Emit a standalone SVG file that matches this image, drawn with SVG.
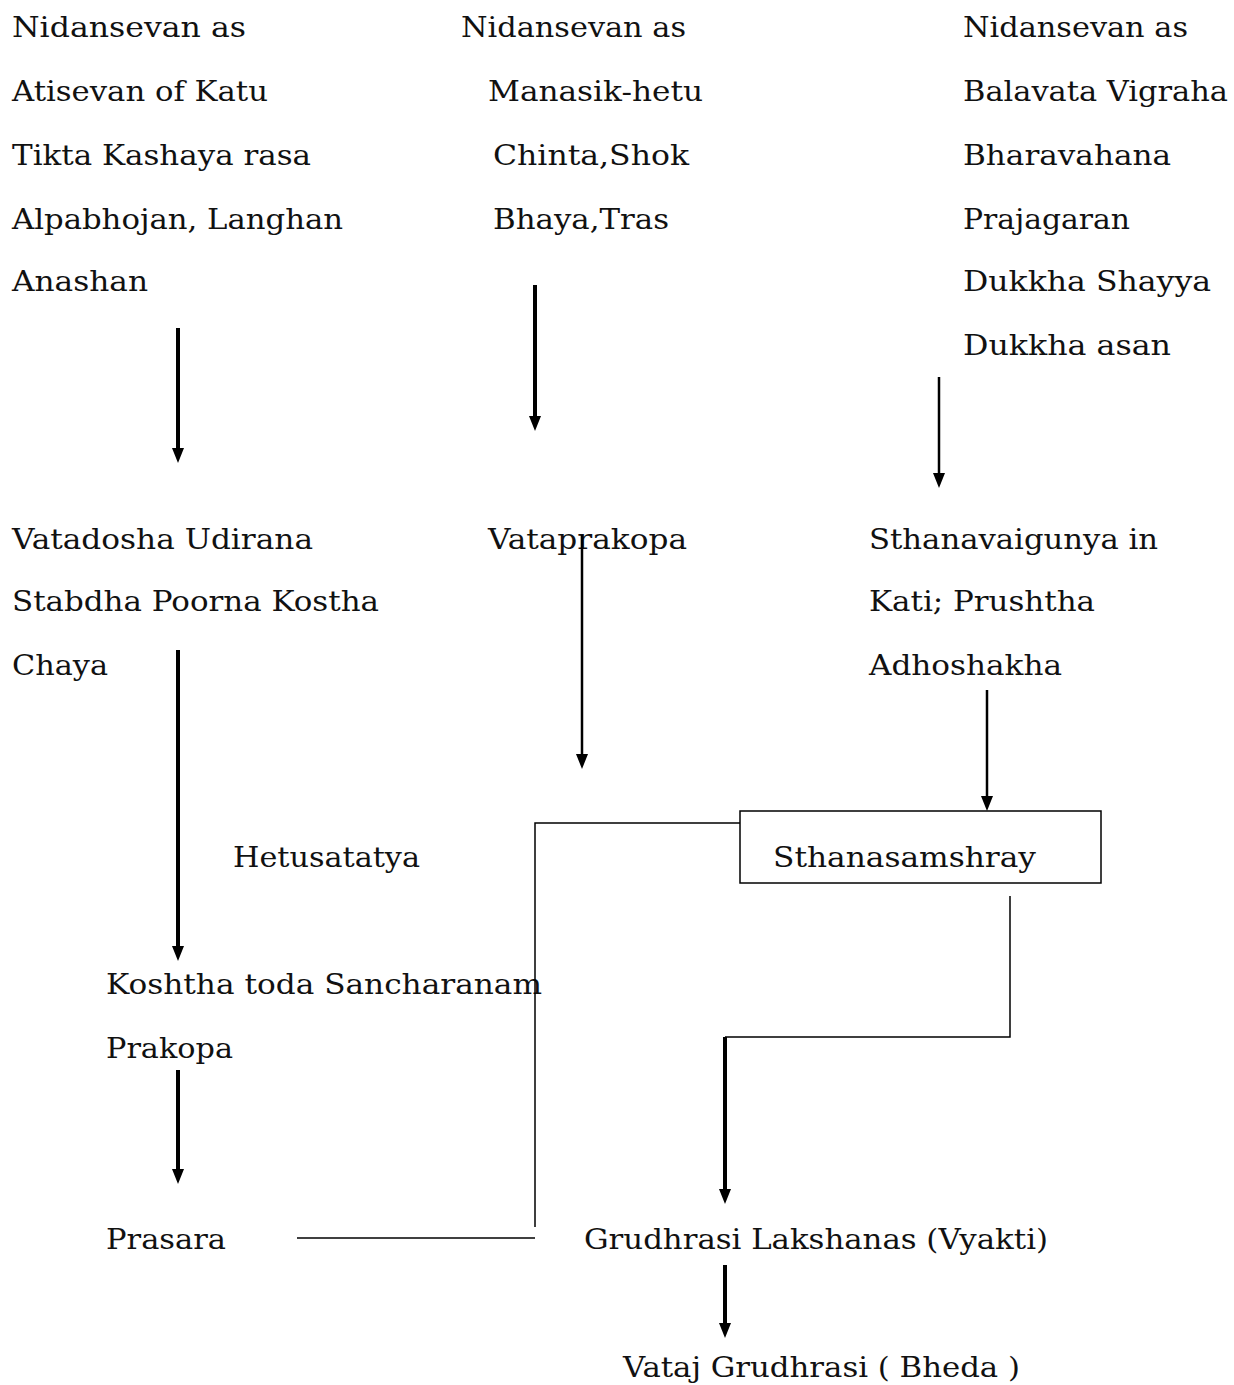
<svg xmlns="http://www.w3.org/2000/svg" width="1234" height="1385" viewBox="0 0 1234 1385">
<style>
text{font-family:"DejaVu Serif","Liberation Serif",serif;font-size:28px;fill:#111}
.a{stroke:#000;stroke-width:4;fill:none}
.t{stroke:#000;stroke-width:2.5;fill:none}
.l{stroke:#000;stroke-width:1.5;fill:none}
.h{fill:#000}
</style>
<defs>
<path id="hd" d="M-6,-15 L6,-15 L0,0 Z"/>
</defs>
<rect width="1234" height="1385" fill="#fff"/>
<g id="n-left-causes">
<text x="12" y="37" textLength="234" lengthAdjust="spacingAndGlyphs">Nidansevan  as</text>
<text x="12" y="101" textLength="256" lengthAdjust="spacingAndGlyphs">Atisevan of Katu</text>
<text x="12" y="165" textLength="299" lengthAdjust="spacingAndGlyphs">Tikta Kashaya rasa</text>
<text x="12" y="229" textLength="331" lengthAdjust="spacingAndGlyphs">Alpabhojan, Langhan</text>
<text x="12" y="291" textLength="136" lengthAdjust="spacingAndGlyphs">Anashan</text>
</g>
<g id="n-mid-causes">
<text x="461" y="37" textLength="225" lengthAdjust="spacingAndGlyphs">Nidansevan as</text>
<text x="488" y="101" textLength="215" lengthAdjust="spacingAndGlyphs">Manasik-hetu</text>
<text x="493" y="165" textLength="196" lengthAdjust="spacingAndGlyphs">Chinta,Shok</text>
<text x="493" y="229" textLength="176" lengthAdjust="spacingAndGlyphs">Bhaya,Tras</text>
</g>
<g id="n-right-causes">
<text x="963" y="37" textLength="225" lengthAdjust="spacingAndGlyphs">Nidansevan as</text>
<text x="963" y="101" textLength="265" lengthAdjust="spacingAndGlyphs">Balavata Vigraha</text>
<text x="963" y="165" textLength="208" lengthAdjust="spacingAndGlyphs">Bharavahana</text>
<text x="963" y="229" textLength="167" lengthAdjust="spacingAndGlyphs">Prajagaran</text>
<text x="963" y="291" textLength="248" lengthAdjust="spacingAndGlyphs">Dukkha Shayya</text>
<text x="963" y="355" textLength="208" lengthAdjust="spacingAndGlyphs">Dukkha asan</text>
</g>
<g id="n-udirana">
<text x="12" y="549" textLength="301" lengthAdjust="spacingAndGlyphs">Vatadosha Udirana</text>
<text x="12" y="611" textLength="367" lengthAdjust="spacingAndGlyphs">Stabdha Poorna Kostha</text>
<text x="12" y="675" textLength="96" lengthAdjust="spacingAndGlyphs">Chaya</text>
</g>
<g id="n-vataprakopa">
<text x="488" y="549" textLength="199" lengthAdjust="spacingAndGlyphs">Vataprakopa</text>
</g>
<g id="n-sthanavaigunya">
<text x="869" y="549" textLength="289" lengthAdjust="spacingAndGlyphs">Sthanavaigunya in</text>
<text x="869" y="611" textLength="226" lengthAdjust="spacingAndGlyphs">Kati; Prushtha</text>
<text x="869" y="675" textLength="193" lengthAdjust="spacingAndGlyphs">Adhoshakha</text>
</g>
<g id="n-hetusatatya">
<text x="233" y="867" textLength="187" lengthAdjust="spacingAndGlyphs">Hetusatatya</text>
</g>
<g id="n-sthanasamshray">
<rect x="740" y="811" width="361" height="72" fill="none" stroke="#000" stroke-width="1.5"/>
<text x="773" y="867" textLength="263" lengthAdjust="spacingAndGlyphs">Sthanasamshray</text>
</g>
<g id="n-sancharanam">
<text x="106" y="994" textLength="436" lengthAdjust="spacingAndGlyphs">Koshtha toda Sancharanam</text>
<text x="106" y="1058" textLength="127" lengthAdjust="spacingAndGlyphs">Prakopa</text>
</g>
<g id="n-prasara">
<text x="106" y="1249" textLength="120" lengthAdjust="spacingAndGlyphs">Prasara</text>
</g>
<g id="n-lakshanas">
<text x="584" y="1249" textLength="464" lengthAdjust="spacingAndGlyphs">Grudhrasi Lakshanas (Vyakti)</text>
</g>
<g id="n-bheda">
<text x="623" y="1377" textLength="397" lengthAdjust="spacingAndGlyphs">Vataj Grudhrasi ( Bheda )</text>
</g>
<g id="connectors">
<line class="a" x1="178" y1="328" x2="178" y2="450"/><use href="#hd" class="h" x="178" y="463"/>
<line class="a" x1="535" y1="285" x2="535" y2="418"/><use href="#hd" class="h" x="535" y="431"/>
<line class="t" x1="939" y1="377" x2="939" y2="475"/><use href="#hd" class="h" x="939" y="488"/>
<line class="a" x1="178" y1="650" x2="178" y2="948"/><use href="#hd" class="h" x="178" y="961"/>
<line class="t" x1="582" y1="535" x2="582" y2="756"/><use href="#hd" class="h" x="582" y="769"/>
<line class="t" x1="987" y1="690" x2="987" y2="798"/><use href="#hd" class="h" x="987" y="811"/>
<line class="a" x1="178" y1="1070" x2="178" y2="1171"/><use href="#hd" class="h" x="178" y="1184"/>
<polyline class="l" points="740,823 535,823 535,1227"/>
<line class="l" x1="297" y1="1238" x2="535" y2="1238"/>
<polyline class="l" points="1010,896 1010,1037 725,1037"/>
<line class="a" x1="725" y1="1037" x2="725" y2="1191"/><use href="#hd" class="h" x="725" y="1204"/>
<line class="a" x1="725" y1="1265" x2="725" y2="1325"/><use href="#hd" class="h" x="725" y="1338"/>
</g>
</svg>
